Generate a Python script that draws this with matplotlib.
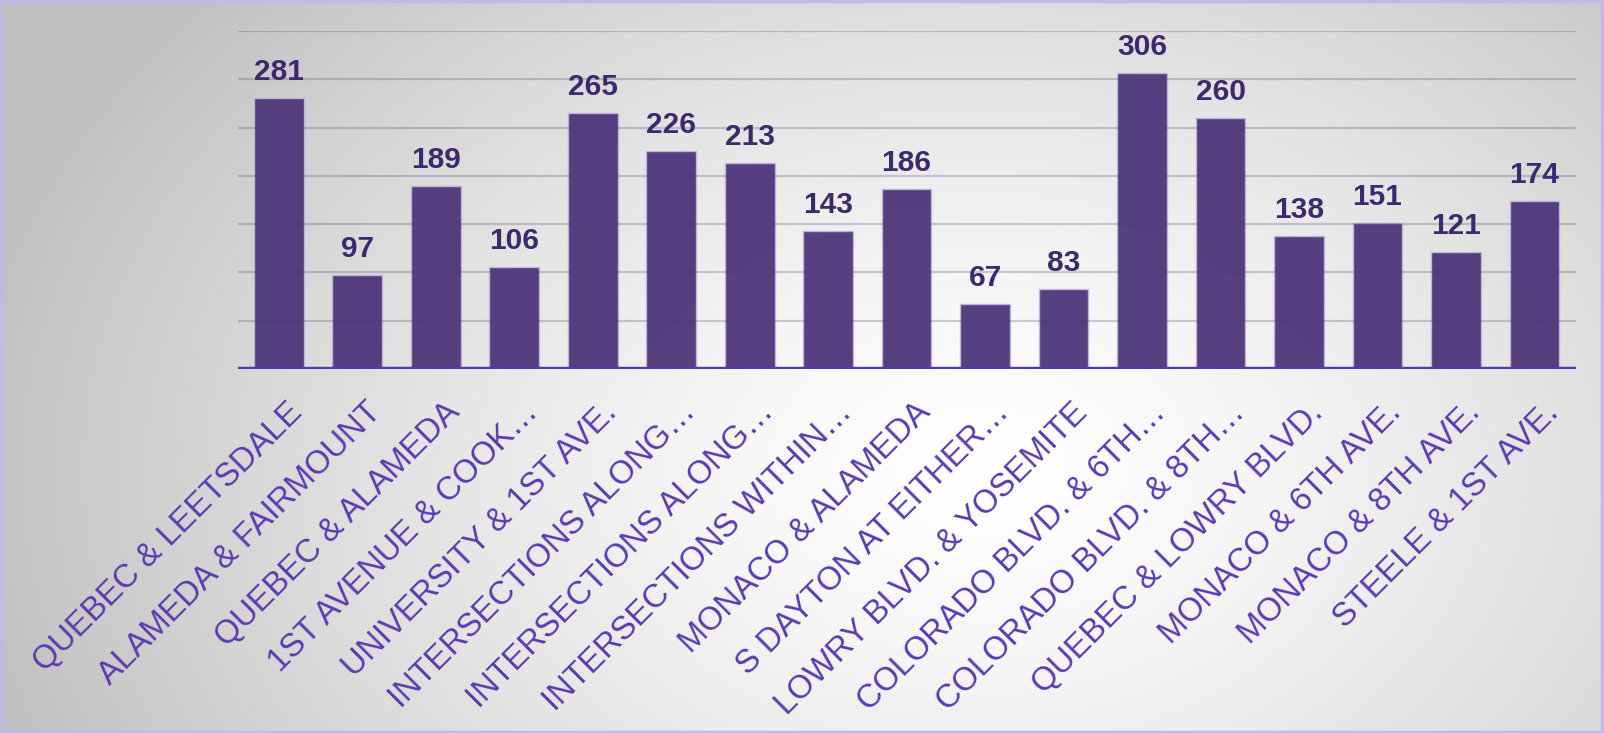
import numpy as np
import matplotlib
matplotlib.use("Agg")
import matplotlib.pyplot as plt
from matplotlib.transforms import ScaledTranslation
from matplotlib.patches import Rectangle

categories = [
    "QUEBEC & LEETSDALE", "ALAMEDA & FAIRMOUNT", "QUEBEC & ALAMEDA",
    "1ST AVENUE & COOK\u2026", "UNIVERSITY & 1ST AVE.", "INTERSECTIONS ALONG\u2026",
    "INTERSECTIONS ALONG\u2026", "INTERSECTIONS WITHIN\u2026", "MONACO & ALAMEDA",
    "S DAYTON AT EITHER\u2026", "LOWRY BLVD. & YOSEMITE", "COLORADO BLVD. & 6TH\u2026",
    "COLORADO BLVD. & 8TH\u2026", "QUEBEC & LOWRY BLVD.", "MONACO & 6TH AVE.",
    "MONACO & 8TH AVE.", "STEELE & 1ST AVE.",
]
values = [281, 97, 189, 106, 265, 226, 213, 143, 186, 67, 83, 306, 260, 138, 151, 121, 174]
grid_ticks = [50, 100, 150, 200, 250, 300, 350]

plt.rcParams['font.family'] = ['Liberation Sans', 'DejaVu Sans']

W, H = 1604, 733
fig = plt.figure(figsize=(W / 100, H / 100), dpi=100)

# background gradient
bg = fig.add_axes([0, 0, 1, 1], zorder=-10)
yy, xx = np.mgrid[0:H, 0:W]
cx, cy = 980, 470
r = np.sqrt(((xx - cx) / 980.0) ** 2 + ((yy - cy) / 700.0) ** 2)
g = 1.0 - 0.23 * np.clip(r, 0, 1.05) ** 1.4
img = np.dstack([g, g, g])
bg.imshow(img, aspect='auto', extent=[0, 1, 0, 1], origin='upper')
bg.set_axis_off()

ax = fig.add_axes([238 / W, 364 / H, (1576 - 238) / W, 338 / H])
ax.set_facecolor('none')
x = np.arange(len(values))
ax.bar(x, values, width=0.634, color='#4a3278', alpha=0.93,
       edgecolor='#c2b8da', linewidth=1.0, zorder=2)
for yv in grid_ticks:
    ax.axhline(yv, color='#4a3a6e', alpha=0.25, linewidth=1.6, zorder=3)
ax.axhline(0, color='#5E35B1', linewidth=3.2, zorder=4)

for xi, v in zip(x, values):
    ax.annotate(str(v), (xi, v), xytext=(0, 13), textcoords='offset points',
                ha='center', va='baseline', fontsize=21.5, fontweight='bold',
                color='#3D2A6E', zorder=5)

ax.set_xlim(-0.52, len(values) - 1 + 0.53)
ax.set_ylim(0, 350)
ax.set_yticks([])
ax.set_xticks(x)
ax.set_xticklabels(categories, rotation=45, ha='right', rotation_mode='anchor',
                   fontsize=23.5, color='#5A3AB0')
ax.tick_params(axis='x', length=0, pad=20)
off = ScaledTranslation(6 / 72, 0, fig.dpi_scale_trans)
for lab in ax.get_xticklabels():
    lab.set_transform(lab.get_transform() + off)
for s in ax.spines.values():
    s.set_visible(False)

# figure border
fig.patches.append(Rectangle((0.001, 0.001), 0.998, 0.997, transform=fig.transFigure,
                             fill=False, edgecolor='#c4b8e6', linewidth=2.5))

fig.savefig('out.png', dpi=100)
